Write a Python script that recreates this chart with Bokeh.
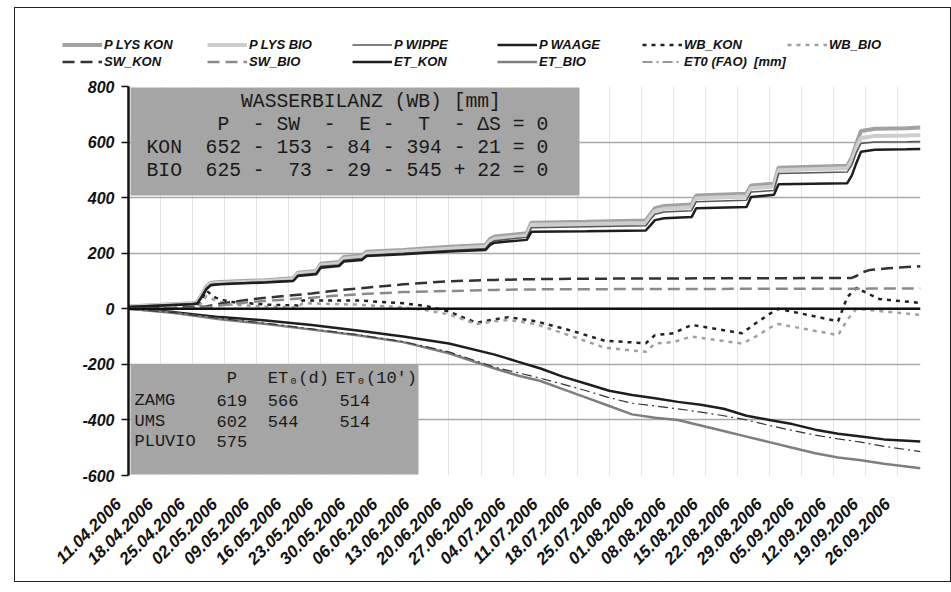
import math
import pandas as pd
from bokeh.plotting import figure
from bokeh.layouts import column
from bokeh.models import (Range1d, FixedTicker, DatetimeTickFormatter, Span,
                          BoxAnnotation, Label, Legend, LegendItem)
from bokeh.embed import file_html
from bokeh.resources import INLINE

START = pd.Timestamp("2006-04-11")
END = pd.Timestamp("2006-10-01")

# cumulative precipitation [mm]; x given as days after 11.04.2006
P_DAY = [0, 14, 15, 16, 17, 18, 20, 30, 36, 37, 41, 42, 46, 47, 51, 52, 60, 70, 78, 79,
         80, 87, 88, 100, 113, 114, 115, 117, 123, 124, 135, 136, 141, 142, 157, 158,
         159, 160, 163, 170, 173]
P_LYS_KON = [8, 20, 24, 50, 80, 94, 96, 103, 110, 130, 136, 162, 168, 186, 192, 205, 212,
             223, 230, 252, 260, 272, 310, 313, 318, 340, 362, 370, 375, 408, 414, 444,
             450, 508, 515, 545, 595, 640, 648, 650, 652]
P_LYS_BIO = [8, 19, 23, 48, 77, 91, 93, 100, 106, 126, 132, 157, 163, 180, 186, 199, 206,
             216, 223, 244, 252, 264, 302, 305, 309, 331, 352, 360, 365, 398, 404, 434,
             440, 499, 506, 533, 580, 615, 622, 624, 625]
P_WIPPE = [8, 19, 22, 47, 75, 88, 90, 97, 103, 122, 128, 153, 158, 175, 181, 193, 200,
           210, 217, 237, 245, 257, 292, 295, 299, 320, 340, 348, 353, 385, 391, 420,
           426, 487, 492, 517, 562, 595, 600, 601, 602]
P_WAAGE = [6, 16, 18, 42, 70, 85, 88, 95, 100, 118, 124, 148, 154, 170, 176, 190, 196,
           206, 212, 230, 238, 248, 277, 279, 282, 300, 319, 326, 330, 362, 366, 402,
           410, 448, 452, 480, 525, 565, 572, 574, 575]

# cumulative seepage water [mm]
SW_DAY = [0, 10, 17, 20, 25, 30, 40, 45, 50, 60, 70, 80, 90, 110, 140, 158, 159, 160,
          162, 166, 173]
SW_KON = [0, 3, 8, 18, 30, 40, 55, 65, 73, 88, 99, 104, 107, 109, 110, 111, 118, 130,
          140, 146, 153]
SW_BIO = [0, 2, 5, 12, 22, 28, 40, 47, 52, 60, 64, 68, 70, 71, 72, 72, 72, 72, 73, 73, 73]

# water balance residual [mm]
WB_DAY = [0, 15, 17, 19, 22, 30, 37, 38, 50, 60, 65, 70, 76, 80, 83, 89, 97, 104, 113,
          115, 119, 123, 134, 137, 141, 142, 155, 157, 159, 164, 173]
WB_KON = [0, 0, 65, 40, 25, 15, 12, 30, 30, 20, 10, -10, -50, -38, -30, -45, -80, -115,
          -124, -95, -88, -58, -88, -52, -8, 0, -45, 42, 75, 35, 21]
WB_BIO = [0, 0, 45, 30, 15, 8, 5, 20, 15, 5, -5, -20, -55, -45, -40, -55, -100, -140,
          -155, -125, -120, -100, -125, -100, -60, -55, -95, -40, 0, -8, -22]

# cumulative evapotranspiration [mm] (negative)
ET_DAY = [0, 10, 20, 30, 40, 50, 60, 70, 80, 85, 90, 95, 100, 105, 110, 115, 120, 125,
          130, 135, 140, 145, 150, 155, 160, 165, 173]
ET_KON = [0, -12, -30, -42, -58, -78, -100, -125, -165, -190, -215, -245, -270, -295,
          -310, -322, -335, -345, -360, -385, -400, -415, -435, -450, -460, -470, -478]
ET_BIO = [0, -15, -38, -55, -75, -95, -120, -160, -215, -240, -260, -290, -320, -350,
          -380, -392, -400, -420, -440, -460, -480, -500, -520, -535, -545, -558, -574]
ET0_FAO = [0, -14, -35, -52, -72, -93, -118, -155, -210, -230, -250, -272, -295, -320,
           -340, -350, -360, -372, -385, -400, -420, -438, -455, -468, -480, -495, -514]

TICK_LABELS = ["11.04.2006", "18.04.2006", "25.04.2006", "02.05.2006", "09.05.2006",
               "16.05.2006", "23.05.2006", "30.05.2006", "06.06.2006", "13.06.2006",
               "20.06.2006", "27.06.2006", "04.07.2006", "11.07.2006", "18.07.2006",
               "25.07.2006", "01.08.2006", "08.08.2006", "15.08.2006", "22.08.2006",
               "29.08.2006", "05.09.2006", "12.09.2006", "19.09.2006", "26.09.2006"]
Y_TICKS = [-600, -400, -200, 0, 200, 400, 600, 800]

# water balance table: P - SW - E - T - dS = 0
WB_NAMES = ["KON", "BIO"]
WB_P = [652, 625]
WB_SW = [153, 73]
WB_E = [84, 29]
WB_T = [394, 545]
WB_DS = [21, -22]

# station table
STATIONS = ["ZAMG", "UMS", "PLUVIO"]
ST_P = [619, 602, 575]
ST_ET0_D = [566, 544, None]
ST_ET0_10 = [514, 514, None]


def to_dates(days):
    return [START + pd.Timedelta(days=d) for d in days]


NB = "\u00a0"
SANS = "Liberation Sans"
MONO = "Liberation Mono"

# page offsets: frame corner (left/top) and where the chart canvas begins
FX, FY = 15, 8
LEG_H = 62
OX, OY = FX, FY + LEG_H

series = [
    ("P LYS KON", P_DAY, P_LYS_KON, dict(line_color="#a2a2a2", line_width=4)),
    ("P LYS BIO", P_DAY, P_LYS_BIO, dict(line_color="#cdcdcd", line_width=4)),
    ("P WIPPE", P_DAY, P_WIPPE, dict(line_color="#555555", line_width=1.5)),
    ("P WAAGE", P_DAY, P_WAAGE, dict(line_color="#1e1e1e", line_width=2.5)),
    ("WB_KON", WB_DAY, WB_KON, dict(line_color="#222222", line_width=2.5, line_dash="4 5")),
    ("WB_BIO", WB_DAY, WB_BIO, dict(line_color="#a0a0a0", line_width=2.5, line_dash="4 5")),
    ("SW_KON", SW_DAY, SW_KON, dict(line_color="#333333", line_width=2.5, line_dash="12 6")),
    ("SW_BIO", SW_DAY, SW_BIO, dict(line_color="#8a8a8a", line_width=2.5, line_dash="12 6")),
    ("ET_KON", ET_DAY, ET_KON, dict(line_color="#1e1e1e", line_width=2.5)),
    ("ET_BIO", ET_DAY, ET_BIO, dict(line_color="#7e7e7e", line_width=2.5)),
    ("ET0 (FAO)" + NB + NB + "[mm]", ET_DAY, ET0_FAO,
     dict(line_color="#333333", line_width=1.2, line_dash="10 4 2 4")),
]

# ---- legend strip above the chart (its own series lie outside its view) ----
lg = figure(width=935, height=LEG_H, x_range=Range1d(0, 1), y_range=Range1d(0, 1),
            output_backend="svg", toolbar_location=None,
            x_axis_location=None, y_axis_location=None,
            min_border_left=0, min_border_right=0, min_border_top=0, min_border_bottom=0,
            background_fill_color="white", border_fill_color="white")
lg.frame_align = False
lg.outline_line_color = None
lg.grid.visible = False
items = []
for label, xd, yd, st in series:
    r = lg.line(to_dates(xd), yd, **st)
    items.append(LegendItem(label=label, renderers=[r]))
legend = Legend(items=items, ncols=6, orientation="horizontal",
                location=(62 - FX, FY + LEG_H - 69.5), padding=0, margin=0, spacing=0,
                glyph_width=40, glyph_height=17, label_height=17, label_width=103,
                label_standoff=2, border_line_color=None, background_fill_alpha=0,
                label_text_font=SANS, label_text_font_style="bold italic",
                label_text_font_size="13px", label_text_color="#111111")
lg.add_layout(legend, "center")

# ---- chart ----
p = figure(width=935, height=511, x_axis_type="datetime",
           x_range=Range1d(START, END), y_range=Range1d(-600, 800),
           output_backend="svg", toolbar_location=None,
           min_border_left=113, min_border_right=30,
           min_border_top=16, min_border_bottom=106,
           background_fill_color="white", border_fill_color="white")
p.frame_align = False
p.outline_line_color = None

tick_ms = [pd.to_datetime(t, format="%d.%m.%Y").value // 10**6 for t in TICK_LABELS]
p.xaxis.ticker = FixedTicker(ticks=tick_ms)
fmt = "%d.%m.%Y"
p.xaxis.formatter = DatetimeTickFormatter(
    microseconds=fmt, milliseconds=fmt, seconds=fmt, minsec=fmt, minutes=fmt,
    hourmin=fmt, hours=fmt, days=fmt, months=fmt, years=fmt, context=None)
p.xaxis.major_label_overrides = {ms: lab + NB * 3 for ms, lab in zip(tick_ms, TICK_LABELS)}
p.xaxis.major_label_orientation = math.pi / 4
p.xaxis.axis_line_color = None
p.xaxis.major_tick_line_color = None
p.xaxis.minor_tick_line_color = None
p.xaxis.major_label_text_font = SANS
p.xaxis.major_label_text_font_style = "bold italic"
p.xaxis.major_label_text_font_size = "17px"
p.xaxis.major_label_text_color = "#111111"
p.xaxis.major_label_standoff = 10

p.yaxis.ticker = FixedTicker(ticks=Y_TICKS)
p.yaxis.major_label_overrides = {v: str(v) for v in Y_TICKS}
p.yaxis.axis_line_color = "#111111"
p.yaxis.axis_line_width = 2.5
p.yaxis.major_tick_in = 0
p.yaxis.major_tick_out = 7
p.yaxis.major_tick_line_width = 1.5
p.yaxis.major_tick_line_color = "#111111"
p.yaxis.minor_tick_line_color = None
p.yaxis.major_label_text_font = SANS
p.yaxis.major_label_text_font_style = "bold italic"
p.yaxis.major_label_text_font_size = "16px"
p.yaxis.major_label_text_color = "#111111"
p.yaxis.major_label_standoff = 7

p.ygrid.ticker = FixedTicker(ticks=Y_TICKS)
p.ygrid.grid_line_color = "#a8a8a8"
p.ygrid.grid_line_width = 1.5
p.xgrid.ticker = FixedTicker(ticks=tick_ms)
p.xgrid.grid_line_color = "#e4e4e4"
p.xgrid.grid_line_width = 1

for label, xd, yd, st in series:
    p.line(to_dates(xd), yd, **st)

p.add_layout(Span(location=0, dimension="width", line_color="#111111", line_width=2.5))


def canvas_box(left, right, top, bottom):
    # page pixel edges converted to canvas units
    return BoxAnnotation(left=left - OX, right=right - OX, top=top - OY, bottom=bottom - OY,
                         left_units="canvas", right_units="canvas",
                         top_units="canvas", bottom_units="canvas",
                         fill_color="#a5a5a5", fill_alpha=1, line_color=None)


# grey text boxes
p.add_layout(canvas_box(130, 579, 87, 195))
p.add_layout(canvas_box(130, 418, 364, 474))


def mono(text, x, y, size):
    p.add_layout(Label(x=x - OX, y=y - OY, x_units="canvas", y_units="canvas",
                       text=text.replace(" ", NB), text_font=MONO,
                       text_font_size=size, text_color="#1a1a1a",
                       text_align="left", text_baseline="middle"))


# water balance table
cw1, x1 = 11.8, 146
rows1 = ["        WASSERBILANZ (WB) [mm]",
         "      P  - SW  -  E -  T  - \u0394S = 0"]
for n, pp, sw, e, t, ds in zip(WB_NAMES, WB_P, WB_SW, WB_E, WB_T, WB_DS):
    sign = "-" if ds >= 0 else "+"
    rows1.append(f"{n}  {pp:3d} - {sw:3d} - {e:2d} - {t:3d} {sign} {abs(ds):2d} = 0")
for i, row in enumerate(rows1):
    mono(row, x1, 101 + i * 23.3, "19.7px")

# station table
cw2, x2 = 10.25, 134
mono("P", x2 + 9 * cw2, 378, "17px")
mono("ET\u2080(d)", x2 + 13 * cw2, 378, "17px")
mono("ET\u2080(10')", x2 + 19.6 * cw2, 378, "17px")
for i, (s, pp, ed, e10) in enumerate(zip(STATIONS, ST_P, ST_ET0_D, ST_ET0_10)):
    y = 400 + i * 20.7
    mono(s, x2, y, "17px")
    mono(str(pp), x2 + 8 * cw2, y, "17px")
    if ed is not None:
        mono(str(ed), x2 + 13 * cw2, y, "17px")
    if e10 is not None:
        mono(str(e10), x2 + 20 * cw2, y, "17px")

layout = column(lg, p, spacing=0, margin=(FY, 0, 0, FX),
                styles={"outline": "1px solid #222222"})

open("out.html", "w").write(file_html(layout, INLINE))
